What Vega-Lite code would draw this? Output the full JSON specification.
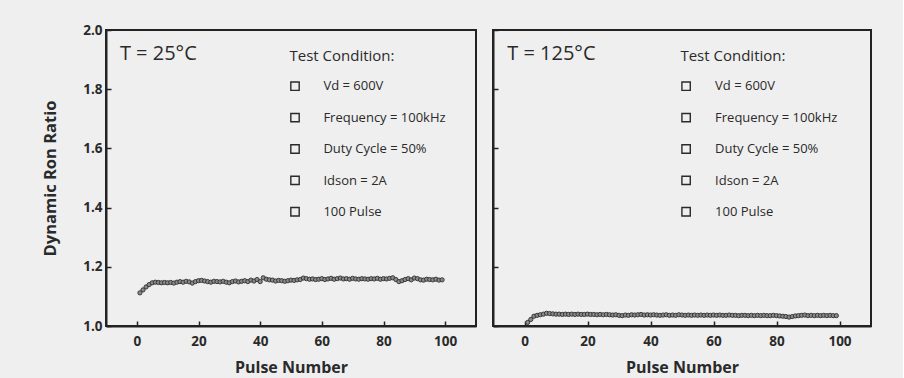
{
  "$schema": "https://vega.github.io/schema/vega-lite/v6.json",
  "background": "#efefef",
  "padding": {"left": 41, "top": 22, "right": 31, "bottom": 8},
  "spacing": 14,
  "datasets": {
    "pts": [
      {"T": "25", "pulse": 1, "ratio": 1.112}, {"T": "25", "pulse": 2, "ratio": 1.122}, {"T": "25", "pulse": 3, "ratio": 1.132}, {"T": "25", "pulse": 4, "ratio": 1.140}, {"T": "25", "pulse": 5, "ratio": 1.146},
      {"T": "25", "pulse": 6, "ratio": 1.148}, {"T": "25", "pulse": 7, "ratio": 1.147}, {"T": "25", "pulse": 8, "ratio": 1.146}, {"T": "25", "pulse": 9, "ratio": 1.147}, {"T": "25", "pulse": 10, "ratio": 1.146},
      {"T": "25", "pulse": 11, "ratio": 1.147}, {"T": "25", "pulse": 12, "ratio": 1.145}, {"T": "25", "pulse": 13, "ratio": 1.148}, {"T": "25", "pulse": 14, "ratio": 1.150}, {"T": "25", "pulse": 15, "ratio": 1.148},
      {"T": "25", "pulse": 16, "ratio": 1.151}, {"T": "25", "pulse": 17, "ratio": 1.149}, {"T": "25", "pulse": 18, "ratio": 1.145}, {"T": "25", "pulse": 19, "ratio": 1.150}, {"T": "25", "pulse": 20, "ratio": 1.153},
      {"T": "25", "pulse": 21, "ratio": 1.154}, {"T": "25", "pulse": 22, "ratio": 1.152}, {"T": "25", "pulse": 23, "ratio": 1.150}, {"T": "25", "pulse": 24, "ratio": 1.148}, {"T": "25", "pulse": 25, "ratio": 1.151},
      {"T": "25", "pulse": 26, "ratio": 1.150}, {"T": "25", "pulse": 27, "ratio": 1.149}, {"T": "25", "pulse": 28, "ratio": 1.151}, {"T": "25", "pulse": 29, "ratio": 1.148}, {"T": "25", "pulse": 30, "ratio": 1.146},
      {"T": "25", "pulse": 31, "ratio": 1.150}, {"T": "25", "pulse": 32, "ratio": 1.152}, {"T": "25", "pulse": 33, "ratio": 1.149}, {"T": "25", "pulse": 34, "ratio": 1.151}, {"T": "25", "pulse": 35, "ratio": 1.153},
      {"T": "25", "pulse": 36, "ratio": 1.150}, {"T": "25", "pulse": 37, "ratio": 1.155}, {"T": "25", "pulse": 38, "ratio": 1.152}, {"T": "25", "pulse": 39, "ratio": 1.157}, {"T": "25", "pulse": 40, "ratio": 1.150},
      {"T": "25", "pulse": 41, "ratio": 1.163}, {"T": "25", "pulse": 42, "ratio": 1.158}, {"T": "25", "pulse": 43, "ratio": 1.156}, {"T": "25", "pulse": 44, "ratio": 1.155}, {"T": "25", "pulse": 45, "ratio": 1.152},
      {"T": "25", "pulse": 46, "ratio": 1.154}, {"T": "25", "pulse": 47, "ratio": 1.153}, {"T": "25", "pulse": 48, "ratio": 1.151}, {"T": "25", "pulse": 49, "ratio": 1.153}, {"T": "25", "pulse": 50, "ratio": 1.155},
      {"T": "25", "pulse": 51, "ratio": 1.154}, {"T": "25", "pulse": 52, "ratio": 1.156}, {"T": "25", "pulse": 53, "ratio": 1.157}, {"T": "25", "pulse": 54, "ratio": 1.162}, {"T": "25", "pulse": 55, "ratio": 1.160},
      {"T": "25", "pulse": 56, "ratio": 1.158}, {"T": "25", "pulse": 57, "ratio": 1.159}, {"T": "25", "pulse": 58, "ratio": 1.157}, {"T": "25", "pulse": 59, "ratio": 1.158}, {"T": "25", "pulse": 60, "ratio": 1.160},
      {"T": "25", "pulse": 61, "ratio": 1.157}, {"T": "25", "pulse": 62, "ratio": 1.159}, {"T": "25", "pulse": 63, "ratio": 1.161}, {"T": "25", "pulse": 64, "ratio": 1.158}, {"T": "25", "pulse": 65, "ratio": 1.160},
      {"T": "25", "pulse": 66, "ratio": 1.162}, {"T": "25", "pulse": 67, "ratio": 1.159}, {"T": "25", "pulse": 68, "ratio": 1.160}, {"T": "25", "pulse": 69, "ratio": 1.158}, {"T": "25", "pulse": 70, "ratio": 1.161},
      {"T": "25", "pulse": 71, "ratio": 1.159}, {"T": "25", "pulse": 72, "ratio": 1.158}, {"T": "25", "pulse": 73, "ratio": 1.160}, {"T": "25", "pulse": 74, "ratio": 1.159}, {"T": "25", "pulse": 75, "ratio": 1.158},
      {"T": "25", "pulse": 76, "ratio": 1.160}, {"T": "25", "pulse": 77, "ratio": 1.159}, {"T": "25", "pulse": 78, "ratio": 1.161}, {"T": "25", "pulse": 79, "ratio": 1.158}, {"T": "25", "pulse": 80, "ratio": 1.160},
      {"T": "25", "pulse": 81, "ratio": 1.159}, {"T": "25", "pulse": 82, "ratio": 1.161}, {"T": "25", "pulse": 83, "ratio": 1.163}, {"T": "25", "pulse": 84, "ratio": 1.157}, {"T": "25", "pulse": 85, "ratio": 1.150},
      {"T": "25", "pulse": 86, "ratio": 1.153}, {"T": "25", "pulse": 87, "ratio": 1.157}, {"T": "25", "pulse": 88, "ratio": 1.160}, {"T": "25", "pulse": 89, "ratio": 1.156}, {"T": "25", "pulse": 90, "ratio": 1.162},
      {"T": "25", "pulse": 91, "ratio": 1.160}, {"T": "25", "pulse": 92, "ratio": 1.156}, {"T": "25", "pulse": 93, "ratio": 1.155}, {"T": "25", "pulse": 94, "ratio": 1.158}, {"T": "25", "pulse": 95, "ratio": 1.157},
      {"T": "25", "pulse": 96, "ratio": 1.156}, {"T": "25", "pulse": 97, "ratio": 1.158}, {"T": "25", "pulse": 98, "ratio": 1.155}, {"T": "25", "pulse": 99, "ratio": 1.156},
      {"T": "125", "pulse": 1, "ratio": 1.012}, {"T": "125", "pulse": 2, "ratio": 1.022}, {"T": "125", "pulse": 3, "ratio": 1.033}, {"T": "125", "pulse": 4, "ratio": 1.036}, {"T": "125", "pulse": 5, "ratio": 1.038},
      {"T": "125", "pulse": 6, "ratio": 1.040}, {"T": "125", "pulse": 7, "ratio": 1.043}, {"T": "125", "pulse": 8, "ratio": 1.042}, {"T": "125", "pulse": 9, "ratio": 1.041}, {"T": "125", "pulse": 10, "ratio": 1.040},
      {"T": "125", "pulse": 11, "ratio": 1.040}, {"T": "125", "pulse": 12, "ratio": 1.039}, {"T": "125", "pulse": 13, "ratio": 1.040}, {"T": "125", "pulse": 14, "ratio": 1.039}, {"T": "125", "pulse": 15, "ratio": 1.040},
      {"T": "125", "pulse": 16, "ratio": 1.039}, {"T": "125", "pulse": 17, "ratio": 1.040}, {"T": "125", "pulse": 18, "ratio": 1.039}, {"T": "125", "pulse": 19, "ratio": 1.039}, {"T": "125", "pulse": 20, "ratio": 1.040},
      {"T": "125", "pulse": 21, "ratio": 1.039}, {"T": "125", "pulse": 22, "ratio": 1.039}, {"T": "125", "pulse": 23, "ratio": 1.038}, {"T": "125", "pulse": 24, "ratio": 1.039}, {"T": "125", "pulse": 25, "ratio": 1.038},
      {"T": "125", "pulse": 26, "ratio": 1.039}, {"T": "125", "pulse": 27, "ratio": 1.038}, {"T": "125", "pulse": 28, "ratio": 1.037}, {"T": "125", "pulse": 29, "ratio": 1.038}, {"T": "125", "pulse": 30, "ratio": 1.036},
      {"T": "125", "pulse": 31, "ratio": 1.035}, {"T": "125", "pulse": 32, "ratio": 1.037}, {"T": "125", "pulse": 33, "ratio": 1.036}, {"T": "125", "pulse": 34, "ratio": 1.038}, {"T": "125", "pulse": 35, "ratio": 1.037},
      {"T": "125", "pulse": 36, "ratio": 1.038}, {"T": "125", "pulse": 37, "ratio": 1.039}, {"T": "125", "pulse": 38, "ratio": 1.037}, {"T": "125", "pulse": 39, "ratio": 1.038}, {"T": "125", "pulse": 40, "ratio": 1.037},
      {"T": "125", "pulse": 41, "ratio": 1.038}, {"T": "125", "pulse": 42, "ratio": 1.037}, {"T": "125", "pulse": 43, "ratio": 1.036}, {"T": "125", "pulse": 44, "ratio": 1.037}, {"T": "125", "pulse": 45, "ratio": 1.038},
      {"T": "125", "pulse": 46, "ratio": 1.036}, {"T": "125", "pulse": 47, "ratio": 1.037}, {"T": "125", "pulse": 48, "ratio": 1.036}, {"T": "125", "pulse": 49, "ratio": 1.038}, {"T": "125", "pulse": 50, "ratio": 1.037},
      {"T": "125", "pulse": 51, "ratio": 1.036}, {"T": "125", "pulse": 52, "ratio": 1.037}, {"T": "125", "pulse": 53, "ratio": 1.036}, {"T": "125", "pulse": 54, "ratio": 1.037}, {"T": "125", "pulse": 55, "ratio": 1.036},
      {"T": "125", "pulse": 56, "ratio": 1.037}, {"T": "125", "pulse": 57, "ratio": 1.036}, {"T": "125", "pulse": 58, "ratio": 1.037}, {"T": "125", "pulse": 59, "ratio": 1.036}, {"T": "125", "pulse": 60, "ratio": 1.037},
      {"T": "125", "pulse": 61, "ratio": 1.036}, {"T": "125", "pulse": 62, "ratio": 1.037}, {"T": "125", "pulse": 63, "ratio": 1.036}, {"T": "125", "pulse": 64, "ratio": 1.036}, {"T": "125", "pulse": 65, "ratio": 1.037},
      {"T": "125", "pulse": 66, "ratio": 1.036}, {"T": "125", "pulse": 67, "ratio": 1.036}, {"T": "125", "pulse": 68, "ratio": 1.035}, {"T": "125", "pulse": 69, "ratio": 1.036}, {"T": "125", "pulse": 70, "ratio": 1.036},
      {"T": "125", "pulse": 71, "ratio": 1.035}, {"T": "125", "pulse": 72, "ratio": 1.036}, {"T": "125", "pulse": 73, "ratio": 1.035}, {"T": "125", "pulse": 74, "ratio": 1.036}, {"T": "125", "pulse": 75, "ratio": 1.035},
      {"T": "125", "pulse": 76, "ratio": 1.036}, {"T": "125", "pulse": 77, "ratio": 1.035}, {"T": "125", "pulse": 78, "ratio": 1.035}, {"T": "125", "pulse": 79, "ratio": 1.036}, {"T": "125", "pulse": 80, "ratio": 1.035},
      {"T": "125", "pulse": 81, "ratio": 1.034}, {"T": "125", "pulse": 82, "ratio": 1.033}, {"T": "125", "pulse": 83, "ratio": 1.032}, {"T": "125", "pulse": 84, "ratio": 1.030}, {"T": "125", "pulse": 85, "ratio": 1.032},
      {"T": "125", "pulse": 86, "ratio": 1.034}, {"T": "125", "pulse": 87, "ratio": 1.035}, {"T": "125", "pulse": 88, "ratio": 1.036}, {"T": "125", "pulse": 89, "ratio": 1.037}, {"T": "125", "pulse": 90, "ratio": 1.035},
      {"T": "125", "pulse": 91, "ratio": 1.036}, {"T": "125", "pulse": 92, "ratio": 1.035}, {"T": "125", "pulse": 93, "ratio": 1.036}, {"T": "125", "pulse": 94, "ratio": 1.035}, {"T": "125", "pulse": 95, "ratio": 1.036},
      {"T": "125", "pulse": 96, "ratio": 1.035}, {"T": "125", "pulse": 97, "ratio": 1.036}, {"T": "125", "pulse": 98, "ratio": 1.035}, {"T": "125", "pulse": 99, "ratio": 1.035}
    ],
    "one": [{}]
  },
  "hconcat": [
    {
      "width": 370,
      "height": 296,
      "layer": [
        {
          "data": {"name": "pts"},
          "transform": [{"filter": "datum.T === '25'"}],
          "mark": {"type": "point", "shape": "circle", "size": 18, "fill": "#8a8a8a", "stroke": "#2e2e2e", "strokeWidth": 0.9, "opacity": 1, "fillOpacity": 1},
          "encoding": {
            "x": {"field": "pulse", "type": "quantitative", "scale": {"domain": [-10, 110], "nice": false, "zero": false},
              "axis": {"title": "Pulse Number", "values": [0, 10, 20, 30, 40, 50, 60, 70, 80, 90, 100], "labelExpr": "datum.value % 20 === 0 ? datum.label : ''"}},
            "y": {"field": "ratio", "type": "quantitative", "scale": {"domain": [1, 2], "nice": false, "zero": false},
              "axis": {"title": "Dynamic Ron Ratio", "values": [1.0, 1.1, 1.2, 1.3, 1.4, 1.5, 1.6, 1.7, 1.8, 1.9, 2.0], "labelExpr": "round(datum.value * 10) % 2 === 0 ? format(datum.value, '.1f') : ''"}}
          }
        },
        {"data": {"name": "one"}, "mark": {"type": "text", "align": "left", "baseline": "middle", "fontSize": 20, "font": "Open Sans", "color": "#2a2a2a"},
         "encoding": {"x": {"datum": -5.5}, "y": {"datum": 1.918}, "text": {"value": "T = 25°C"}}},
        {"data": {"name": "one"}, "mark": {"type": "text", "align": "left", "baseline": "middle", "fontSize": 15, "font": "Open Sans", "color": "#2a2a2a"},
         "encoding": {"x": {"datum": 49.5}, "y": {"datum": 1.912}, "text": {"value": "Test Condition:"}}},
        {"data": {"name": "one"}, "mark": {"type": "text", "align": "left", "baseline": "middle", "fontSize": 13, "font": "Open Sans", "color": "#2a2a2a", "lineHeight": 31.5},
         "encoding": {"x": {"datum": 60.5}, "y": {"datum": 1.81}, "text": {"value": ["Vd = 600V", "Frequency = 100kHz", "Duty Cycle = 50%", "Idson = 2A", "100 Pulse"]}}},
        {"data": {"name": "one"}, "mark": {"type": "point", "shape": "square", "size": 70, "stroke": "#2a2a2a", "strokeWidth": 1.4, "filled": false, "opacity": 1},
         "encoding": {"x": {"datum": 51.3}, "y": {"datum": 1.81}}},
        {"data": {"name": "one"}, "mark": {"type": "point", "shape": "square", "size": 70, "stroke": "#2a2a2a", "strokeWidth": 1.4, "filled": false, "opacity": 1},
         "encoding": {"x": {"datum": 51.3}, "y": {"datum": 1.704}}},
        {"data": {"name": "one"}, "mark": {"type": "point", "shape": "square", "size": 70, "stroke": "#2a2a2a", "strokeWidth": 1.4, "filled": false, "opacity": 1},
         "encoding": {"x": {"datum": 51.3}, "y": {"datum": 1.598}}},
        {"data": {"name": "one"}, "mark": {"type": "point", "shape": "square", "size": 70, "stroke": "#2a2a2a", "strokeWidth": 1.4, "filled": false, "opacity": 1},
         "encoding": {"x": {"datum": 51.3}, "y": {"datum": 1.492}}},
        {"data": {"name": "one"}, "mark": {"type": "point", "shape": "square", "size": 70, "stroke": "#2a2a2a", "strokeWidth": 1.4, "filled": false, "opacity": 1},
         "encoding": {"x": {"datum": 51.3}, "y": {"datum": 1.386}}}
      ]
    },
    {
      "width": 378,
      "height": 296,
      "layer": [
        {
          "data": {"name": "pts"},
          "transform": [{"filter": "datum.T === '125'"}],
          "mark": {"type": "point", "shape": "circle", "size": 18, "fill": "#8a8a8a", "stroke": "#2e2e2e", "strokeWidth": 0.9, "opacity": 1, "fillOpacity": 1},
          "encoding": {
            "x": {"field": "pulse", "type": "quantitative", "scale": {"domain": [-10, 110], "nice": false, "zero": false},
              "axis": {"title": "Pulse Number", "values": [0, 10, 20, 30, 40, 50, 60, 70, 80, 90, 100], "labelExpr": "datum.value % 20 === 0 ? datum.label : ''"}},
            "y": {"field": "ratio", "type": "quantitative", "scale": {"domain": [1, 2], "nice": false, "zero": false},
              "axis": {"title": null, "labels": false, "values": [1.0, 1.1, 1.2, 1.3, 1.4, 1.5, 1.6, 1.7, 1.8, 1.9, 2.0]}}
          }
        },
        {"data": {"name": "one"}, "mark": {"type": "text", "align": "left", "baseline": "middle", "fontSize": 20, "font": "Open Sans", "color": "#2a2a2a"},
         "encoding": {"x": {"datum": -5.5}, "y": {"datum": 1.918}, "text": {"value": "T = 125°C"}}},
        {"data": {"name": "one"}, "mark": {"type": "text", "align": "left", "baseline": "middle", "fontSize": 15, "font": "Open Sans", "color": "#2a2a2a"},
         "encoding": {"x": {"datum": 49.5}, "y": {"datum": 1.912}, "text": {"value": "Test Condition:"}}},
        {"data": {"name": "one"}, "mark": {"type": "text", "align": "left", "baseline": "middle", "fontSize": 13, "font": "Open Sans", "color": "#2a2a2a", "lineHeight": 31.5},
         "encoding": {"x": {"datum": 60.5}, "y": {"datum": 1.81}, "text": {"value": ["Vd = 600V", "Frequency = 100kHz", "Duty Cycle = 50%", "Idson = 2A", "100 Pulse"]}}},
        {"data": {"name": "one"}, "mark": {"type": "point", "shape": "square", "size": 70, "stroke": "#2a2a2a", "strokeWidth": 1.4, "filled": false, "opacity": 1},
         "encoding": {"x": {"datum": 51.3}, "y": {"datum": 1.81}}},
        {"data": {"name": "one"}, "mark": {"type": "point", "shape": "square", "size": 70, "stroke": "#2a2a2a", "strokeWidth": 1.4, "filled": false, "opacity": 1},
         "encoding": {"x": {"datum": 51.3}, "y": {"datum": 1.704}}},
        {"data": {"name": "one"}, "mark": {"type": "point", "shape": "square", "size": 70, "stroke": "#2a2a2a", "strokeWidth": 1.4, "filled": false, "opacity": 1},
         "encoding": {"x": {"datum": 51.3}, "y": {"datum": 1.598}}},
        {"data": {"name": "one"}, "mark": {"type": "point", "shape": "square", "size": 70, "stroke": "#2a2a2a", "strokeWidth": 1.4, "filled": false, "opacity": 1},
         "encoding": {"x": {"datum": 51.3}, "y": {"datum": 1.492}}},
        {"data": {"name": "one"}, "mark": {"type": "point", "shape": "square", "size": 70, "stroke": "#2a2a2a", "strokeWidth": 1.4, "filled": false, "opacity": 1},
         "encoding": {"x": {"datum": 51.3}, "y": {"datum": 1.386}}}
      ]
    }
  ],
  "config": {
    "font": "Open Sans",
    "view": {"stroke": "#222222", "strokeWidth": 2},
    "axis": {
      "grid": false,
      "domainColor": "#222222",
      "domainWidth": 2,
      "tickColor": "#222222",
      "tickWidth": 1.5,
      "tickSize": -5,
      "labelPadding": 9,
      "labelFont": "Open Sans",
      "labelFontWeight": "bold",
      "labelFontSize": 13.5,
      "labelColor": "#2a2a2a",
      "titleFont": "Open Sans",
      "titleFontWeight": "bold",
      "titleColor": "#2a2a2a"
    },
    "axisX": {"titleFontSize": 16, "titlePadding": 12, "labelPadding": 13, "labelFlush": false},
    "axisY": {"titleFontSize": 16.5, "titlePadding": 24, "labelFlush": false}
  }
}
